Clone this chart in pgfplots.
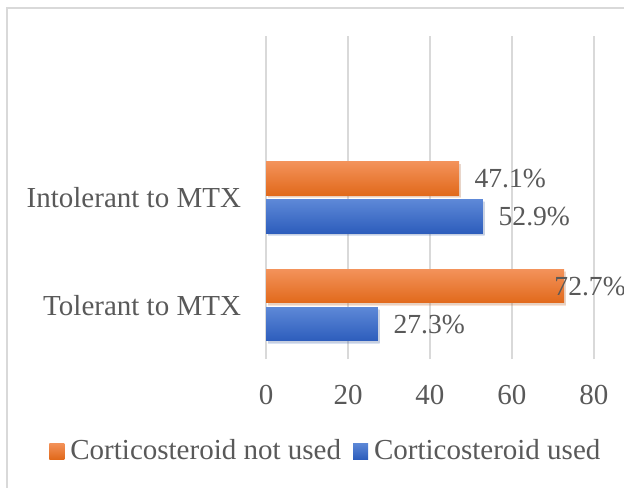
\documentclass[border=0pt]{standalone}
\usepackage{pgfplots}
\pgfplotsset{compat=1.18}
\usetikzlibrary{shadows}
\usepackage{fontspec}
\setmainfont{Liberation Serif}
\definecolor{txt}{HTML}{595959}
\definecolor{gridc}{HTML}{D9D9D9}
\definecolor{orT}{HTML}{F3925A}
\definecolor{orB}{HTML}{E1691B}
\definecolor{blT}{HTML}{5D88D7}
\definecolor{blB}{HTML}{2D5DBC}
\pgfplotsset{
  mybar/.style={xbar, bar width=0.311, bar shift=0, draw=none, forget plot,
    drop shadow={shadow xshift=0.9pt, shadow yshift=-1.1pt, opacity=0.18}},
  orbar/.style={mybar, top color=orT, bottom color=orB},
  blbar/.style={mybar, top color=blT, bottom color=blB},
  lab/.style={nodes near coords={\pgfmathprintnumber[fixed,fixed zerofill,precision=1]{\pgfplotspointmeta}\%},
    point meta=x,
    nodes near coords style={anchor=west, inner sep=0pt, xshift=#1,
      font=\fontsize{13.8}{16}\selectfont, text=txt}},
}
\begin{document}
\begin{tikzpicture}
\path[use as bounding box] (0,0) rectangle (312pt,243.5pt);
\draw[gridc, line width=0.8pt] (3.5pt,-10pt) -- (3.5pt,239.5pt) -- (330pt,239.5pt);
\begin{axis}[
  at={(133pt,64pt)}, anchor=south west,
  scale only axis, width=184.5pt, height=161.5pt,
  xmin=0, xmax=90, ymin=-0.5, ymax=2.5,
  xtick={0,20,40,60,80}, ytick={0,1},
  yticklabels={Tolerant to MTX, Intolerant to MTX},
  xmajorgrids, major grid style={gridc, line width=0.9pt},
  axis line style={draw=none}, tick style={draw=none},
  /pgf/number format/assume math mode=true,
  xticklabel style={font=\fontsize{14.5}{17}\selectfont, text=txt, yshift=-9.5pt},
  yticklabel style={font=\fontsize{14.5}{17}\selectfont, text=txt, xshift=-9pt},
  clip=false,
  legend style={at={(0.165,-0.285)}, anchor=center, draw=none, fill=none,
    legend columns=2, font=\fontsize{14.5}{17}\selectfont, text=txt,
    /tikz/every even column/.append style={column sep=4pt}},
]
\addplot[orbar, lab=7.5pt] coordinates {(47.1,1.176)};
\addplot[blbar, lab=7.7pt] coordinates {(52.9,0.824)};
\addplot[orbar, lab=-5pt] coordinates {(72.7,0.176)};
\addplot[blbar, lab=7.6pt] coordinates {(27.3,-0.176)};
\addlegendimage{draw=none, legend image code/.code={\path (0pt,0pt) -- (8.5pt,0pt);
  \shade[draw=none, top color=orT, bottom color=orB] (0pt,-4pt) rectangle (7.5pt,4pt);}}
\addlegendentry{Corticosteroid not used}
\addlegendimage{draw=none, legend image code/.code={\path (0pt,0pt) -- (8.5pt,0pt);
  \shade[draw=none, top color=blT, bottom color=blB] (0pt,-4pt) rectangle (7.5pt,4pt);}}
\addlegendentry{Corticosteroid used}
\end{axis}
\end{tikzpicture}
\end{document}
